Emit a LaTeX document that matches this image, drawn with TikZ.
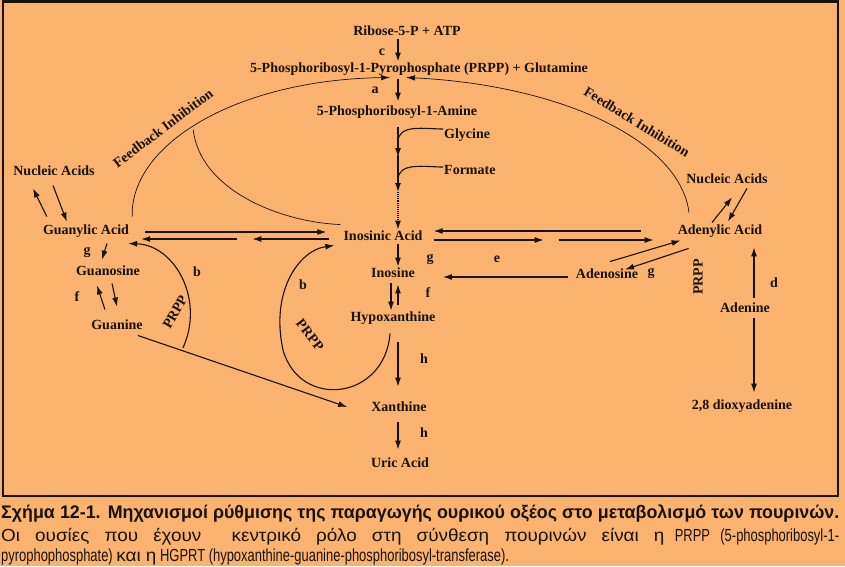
\documentclass[tikz,border=0pt]{standalone}
\usepackage{fontspec}
\setmainfont{Liberation Serif}
\newfontfamily\capfont[FakeStretch=0.74]{Liberation Sans}
\newfontfamily\capgreek[FakeStretch=1.08]{Liberation Sans}
\newfontfamily\capboldfont[FakeStretch=0.98]{Liberation Sans}
\usetikzlibrary{arrows.meta,calc}

\definecolor{paper}{RGB}{250,179,111}
\definecolor{ink}{RGB}{25,18,12}

\tikzset{
    chem/.style={font=\fontsize{14}{15}\selectfont\bfseries, inner sep=1pt, text height=9.5pt, text depth=3pt, text=ink},
    enz/.style={font=\fontsize{14}{15}\selectfont\bfseries, inner sep=1pt, text=ink},
    rxn/.style={-{Latex[length=9pt,width=6pt]}, line width=1.1pt, draw=ink},
    fb/.style={line width=0.7pt, draw=ink},
    captext/.style={anchor=base west, inner sep=0pt, text=ink},
}

\begin{document}
\begin{tikzpicture}[x=1pt,y=-1pt]
    \fill[paper] (0,0) rectangle (845,566);
    \useasboundingbox (0,0) rectangle (845,566);
    \draw[ink, line width=2.5pt] (3,1.5) rectangle (838,496);

    \coordinate (axis) at (398,0);

    % main column
    \node[chem] (ribose) at (407,32) {Ribose-5-P + ATP};
    \node[chem] (prpp) at (419,69) {5-Phosphoribosyl-1-Pyrophosphate (PRPP) + Glutamine};
    \node[chem] (amine) at (397,112) {5-Phosphoribosyl-1-Amine};
    \node[chem, anchor=west] (glycine) at (443,135) {Glycine};
    \node[chem, anchor=west] (formate) at (443,171) {Formate};
    \node[chem] (inosinic) at (383,237) {Inosinic Acid};
    \node[chem] (inosine) at (393,274) {Inosine};
    \node[chem] (hypox) at (393,318) {Hypoxanthine};
    \node[chem] (xanthine) at (399,408) {Xanthine};
    \node[chem] (uric) at (400,464) {Uric Acid};

    % guanine side
    \node[chem] (nucL) at (54,172) {Nucleic Acids};
    \node[chem] (guanylic) at (86,231) {Guanylic Acid};
    \node[chem] (guanosine) at (108,272) {Guanosine};
    \node[chem] (guanine) at (117,326) {Guanine};

    % adenine side
    \node[chem] (nucR) at (727,180) {Nucleic Acids};
    \node[chem] (adenylic) at (720,231) {Adenylic Acid};
    \node[chem] (adenosine) at (607,275) {Adenosine};
    \node[chem] (adenine) at (745,309) {Adenine};
    \node[chem] (dioxy) at (742,406) {2,8 dioxyadenine};

    % enzyme letters
    \node[enz] (c1) at (382,52) {c};
    \node[enz] (a1) at (375,90) {a};
    \node[enz] (g1) at (87,252) {g};
    \node[enz] (f1) at (77,297) {f};
    \node[enz] (b1) at (197,272) {b};
    \node[enz] (b2) at (303,285) {b};
    \node[enz] (g2) at (430,259) {g};
    \node[enz] (e1) at (497,259) {e};
    \node[enz] (f2) at (428,293) {f};
    \node[enz] (h1) at (424,359) {h};
    \node[enz] (h2) at (424,433) {h};
    \node[enz] (g3) at (651,273) {g};
    \node[enz] (d1) at (774,283) {d};

    \node[enz, rotate=60] (prppL) at (175,312) {PRPP};
    \node[enz, rotate=-52] (prppM) at (310,335) {PRPP};
    \node[enz, rotate=90] (prppR) at (698,277) {PRPP};
    \node[enz, rotate=37] (fbL) at (163,128) {Feedback Inhibition};
    \node[enz, rotate=-31.5] (fbR) at (637,122) {Feedback Inhibition};

    % de novo synthesis
    \draw[rxn] (ribose.south -| axis) -- (prpp.north -| axis);
    \draw[rxn, shorten <=3pt, shorten >=3pt] (prpp.south -| axis) -- (amine.north -| axis);
    \coordinate (gly) at (398,142);
    \coordinate (frm) at (398,180);
    \draw[rxn, shorten <=8pt] (amine.south -| axis) -- ($(gly)+(0,15)$);
    \draw[rxn] ($(gly)+(0,13)$) -- ($(frm)+(0,12)$);
    \draw[rxn, densely dotted] ($(frm)+(0,12)$) -- (inosinic.north -| axis);
    \draw[ink, line width=1.1pt] (gly) to[out=90, in=180] ($(glycine.west)+(0,-6)$);
    \draw[ink, line width=1.1pt] (frm) to[out=90, in=180] ($(formate.west)+(0,-4)$);

    % degradation
    \draw[rxn] (inosinic.south -| axis) -- (inosine.north -| axis);
    \draw[rxn] ($(inosine.south -| axis)+(-7,2)$) -- ($(hypox.north -| axis)+(-7,0)$);
    \draw[rxn] ($(hypox.north -| axis)+(0,-6)$) -- ($(inosine.south -| axis)+(0,3)$);
    \draw[rxn] ($(hypox.south -| axis)+(0,17)$) -- ($(xanthine.north -| axis)+(0,-14)$);
    \draw[rxn] ($(xanthine.south -| axis)+(0,7)$) -- ($(uric.north -| axis)+(0,-7)$);

    % feedback
    \draw[fb, -{Latex[length=9pt,width=5.5pt]}] ($(guanylic.north east)+(2,-7)$) .. controls (130,145) and (235,80) .. ($(prpp.south -| axis)+(-8,1)$);
    \draw[fb] ($(guanylic.north east)+(63,-94)$) .. controls (200,190) and (280,222) .. ($(inosinic.north west)+(-2,-5)$);
    \draw[fb, -{Latex[length=9pt,width=5.5pt]}] ($(adenylic.north)+(-31,-11)$) .. controls (680,140) and (560,85) .. ($(prpp.south -| axis)+(8,1)$);

    % guanine branch
    \draw[rxn] ($(guanylic.north west)+(5,-7)$) -- ($(nucL.south)+(-21,9)$);
    \draw[rxn] ($(nucL.south)+(-1,6)$) -- ($(guanylic.north west)+(25,-2)$);
    \draw[rxn] ($(guanylic.south)+(21,5)$) -- ($(guanosine.north)+(-6,-5)$);
    \draw[rxn] ($(guanine.north)+(-12,-9)$) -- ($(guanosine.south)+(-11,6)$);
    \draw[rxn] ($(guanosine.south)+(4,4)$) -- ($(guanine.north)+(0,-12)$);
    \draw[rxn] ($(guanine.south east)+(-6,2)$) -- ($(xanthine.west)+(-23,-1)$);
    \draw[rxn] ($(guanine.east)+(39,22)$) .. controls (205,300) and (175,245) .. ($(guanylic.south east)+(-2,5)$);
    \draw[rxn] ($(hypox.south)+(-3,8)$) .. controls (385,400) and (300,410) .. (283,350) .. controls (270,290) and (300,250) .. ($(inosinic.south west)+(-8,1)$);

    % guanylic <-> inosinic
    \draw[rxn] ($(guanylic.east)+(15,1)$) -- ($(inosinic.west)+(-16,-5)$);
    \draw[rxn] ($(guanylic.east)+(107,8)$) -- ($(guanylic.east)+(11,8)$);
    \draw[rxn] ($(inosinic.west)+(-13,2)$) -- ($(inosinic.west)+(-90,2)$);

    % inosinic <-> adenylic
    \draw[rxn] ($(adenylic.west)+(-36,0)$) -- ($(inosinic.east)+(10,-6)$);
    \draw[rxn] ($(inosinic.east)+(10,3)$) -- ($(inosinic.east)+(120,3)$);
    \draw[rxn] ($(adenylic.west)+(-118,9)$) -- ($(adenylic.west)+(-23,9)$);

    % adenine branch
    \draw[rxn] ($(adenylic.north)+(-8,-1)$) -- ($(nucR.south)+(5,10)$);
    \draw[rxn] ($(nucR.south)+(20,1)$) -- ($(adenylic.north)+(8,-2)$);
    \draw[rxn] ($(adenosine.north)+(3,-6)$) -- ($(adenylic.south west)+(4,2)$);
    \draw[rxn] ($(adenylic.south west)+(12,10)$) -- ($(adenosine.north)+(18,2)$);
    \draw[rxn] ($(adenosine.west)+(-7,2)$) -- ($(inosine.east)+(27,3)$);
    \draw[rxn] ($(adenine.north)+(9,-4)$) -- ($(adenylic.south -| adenine.north)+(9,9)$);
    \draw[rxn] ($(adenine.south)+(9,2)$) -- ($(dioxy.north)+(12,-6)$);

    % caption
    \node[captext, font=\capboldfont\bfseries\fontsize{18.2}{20}\selectfont] (cap1) at (1,518) {\makebox[838pt][s]{Σχήμα 12-1. Μηχανισμοί ρύθμισης της παραγωγής ουρικού οξέος στο μεταβολισμό των πουρινών.}};
    \node[captext, font=\capfont\fontsize{17.5}{20}\selectfont] (cap2) at (1,541) {\makebox[838pt][s]{{\capgreek Οι ουσίες που έχουν \ κεντρικό ρόλο στη σύνθεση πουρινών είναι η} PRPP (5-phosphoribosyl-1-}};
    \node[captext, font=\capfont\fontsize{17.5}{20}\selectfont] (cap3) at (1,561) {pyrophophosphate) {\capgreek και η} HGPRT (hypoxanthine-guanine-phosphoribosyl-transferase).};
\end{tikzpicture}
\end{document}
